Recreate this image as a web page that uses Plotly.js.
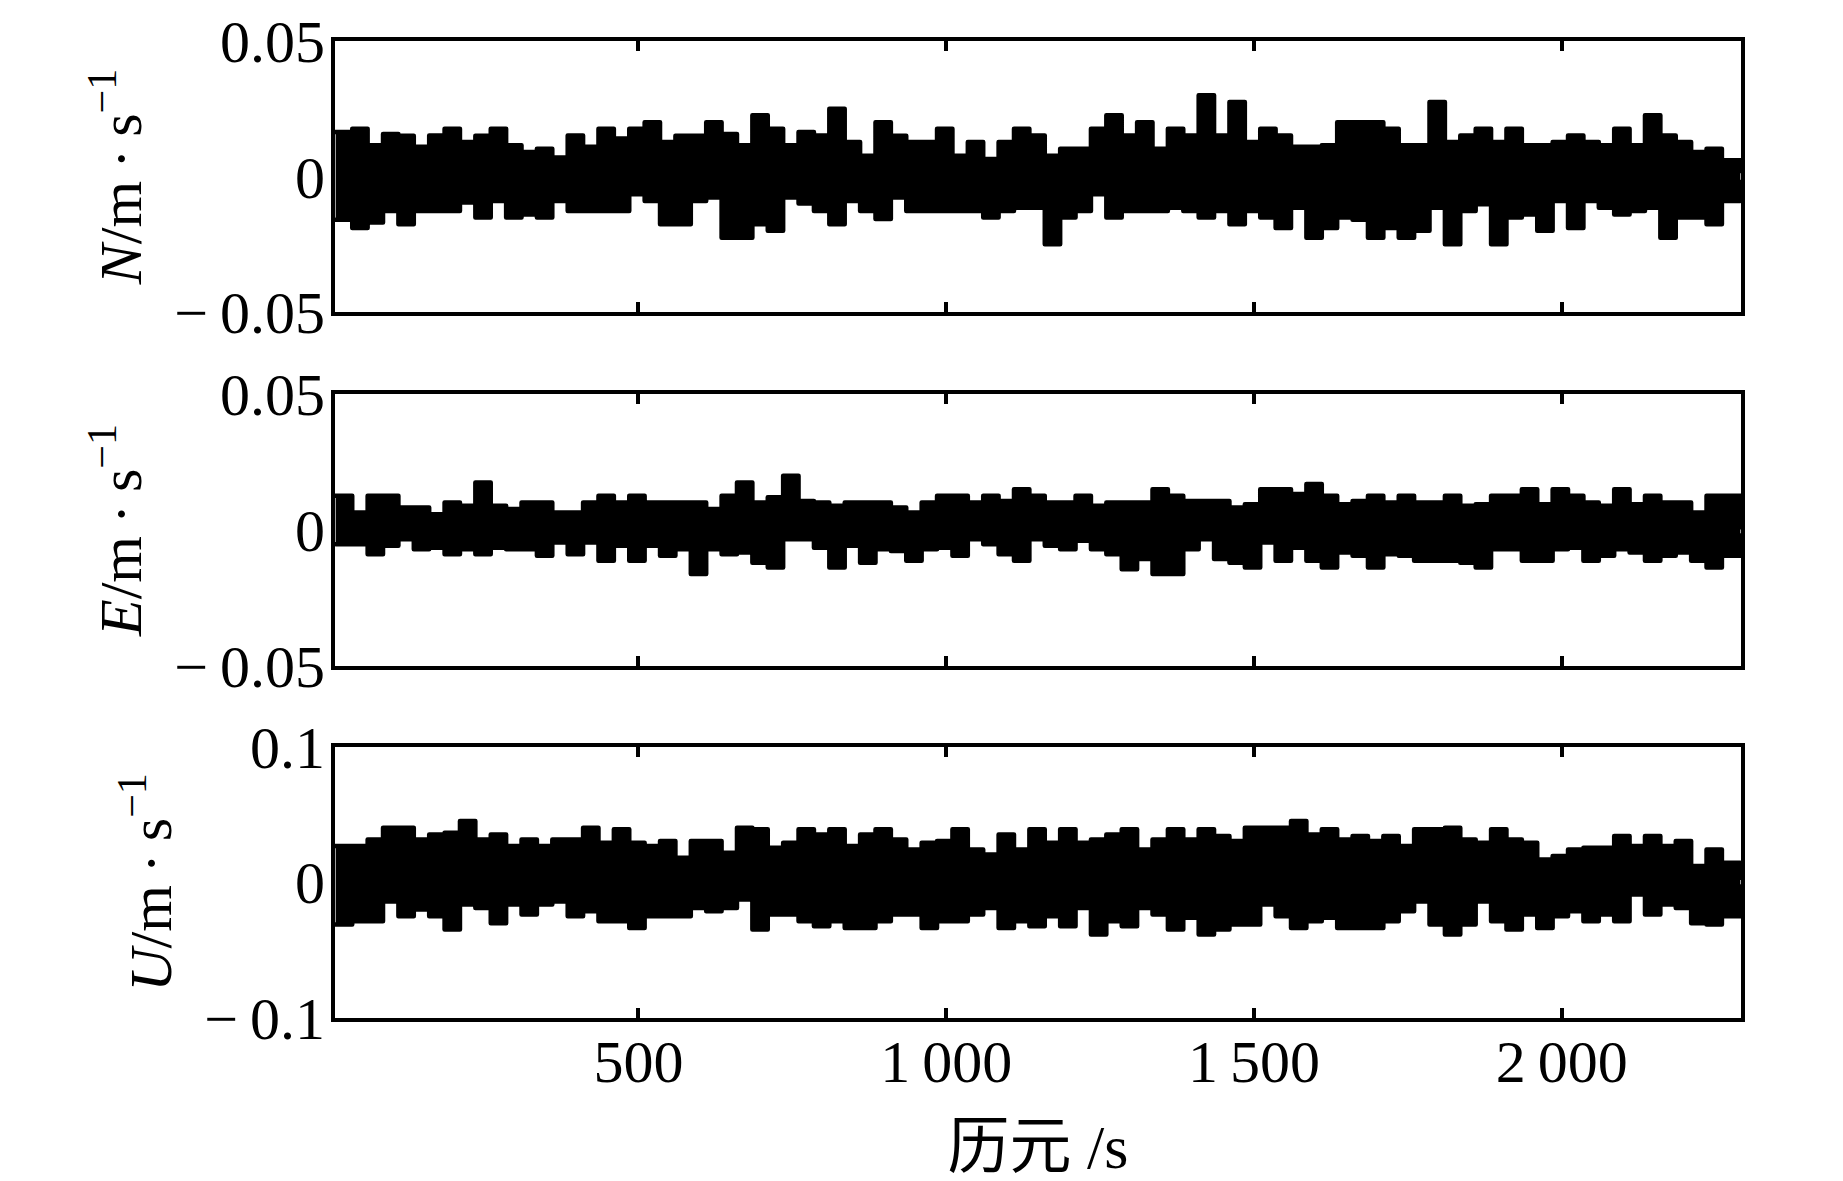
<!DOCTYPE html>
<html>
<head>
<meta charset="utf-8">
<script src="https://cdn.plot.ly/plotly-3.0.1.min.js"></script>
<style>
  html, body { margin: 0; padding: 0; background: #fff; }
  #graph { width: 1843px; height: 1181px; }
  .scatterlayer .js-line { stroke-linejoin: round; stroke-linecap: round; }
</style>
</head>
<body>
<div id="graph"></div>
<script>
// epochs (s) of each 25 s window
var epochs = [8,35,60,85,110,135,160,185,210,235,260,285,310,335,360,385,410,435,460,485,510,535,560,585,610,635,660,685,710,735,760,
  785,810,835,860,885,910,935,960,985,1010,1035,1060,1085,1110,1135,1160,1185,1210,1235,1260,1285,1310,1335,1360,1385,1410,1435,1460,1485,1510,
  1535,1560,1585,1610,1635,1660,1685,1710,1735,1760,1785,1810,1835,1860,1885,1910,1935,1960,1985,2010,2035,2060,2085,2110,2135,2160,2185,2210,2235,2260,2290];

// upper / lower envelope of the velocity residuals in each window (m/s)
var nHigh = [0.0164,0.0176,0.0115,0.0157,0.015,0.011,0.0151,0.0176,0.0127,0.015,0.0176,0.0115,0.009,0.0102,0.007,0.0151,0.011,0.0176,0.014,0.0176,0.020,0.0127,0.015,0.015,0.020,0.0157,0.0115,0.0226,0.0176,0.0115,0.0164,
  0.0151,0.025,0.0127,0.0077,0.020,0.015,0.0127,0.0127,0.0176,0.0077,0.0127,0.0065,0.0127,0.0176,0.0151,0.0077,0.0102,0.0102,0.0176,0.0226,0.0151,0.020,0.0102,0.0176,0.0151,0.030,0.0151,0.0275,0.0127,0.0176,
  0.0151,0.011,0.011,0.0115,0.020,0.020,0.020,0.0176,0.0115,0.0115,0.0275,0.0127,0.0151,0.0176,0.0127,0.0176,0.0115,0.0115,0.0127,0.0151,0.0127,0.0115,0.0176,0.0115,0.0226,0.0151,0.0127,0.009,0.0102,0.006,0.002];
var nLow = [-0.016,-0.019,-0.017,-0.0127,-0.0176,-0.0127,-0.0127,-0.0127,-0.0096,-0.0151,-0.009,-0.0151,-0.014,-0.0151,-0.009,-0.0127,-0.0127,-0.0127,-0.0127,-0.0065,-0.009,-0.0176,-0.0176,-0.009,-0.0077,-0.0226,-0.0226,-0.0176,-0.020,-0.0077,-0.010,
  -0.0127,-0.0176,-0.009,-0.0127,-0.0157,-0.0077,-0.0127,-0.0127,-0.0127,-0.0127,-0.0127,-0.0151,-0.0127,-0.0115,-0.0115,-0.025,-0.0151,-0.0127,-0.0065,-0.0151,-0.0127,-0.0127,-0.0127,-0.0115,-0.0127,-0.0151,-0.0127,-0.0176,-0.0127,-0.0151,
  -0.019,-0.0115,-0.0226,-0.019,-0.0151,-0.016,-0.0226,-0.019,-0.0226,-0.020,-0.0115,-0.025,-0.0127,-0.0102,-0.025,-0.0151,-0.014,-0.020,-0.009,-0.019,-0.009,-0.0115,-0.014,-0.0127,-0.0115,-0.0226,-0.0151,-0.0151,-0.0176,-0.009,-0.002];

var eHigh = [0.0126,0.0064,0.0126,0.0126,0.0083,0.0083,0.0058,0.0101,0.0089,0.0175,0.0089,0.0077,0.0101,0.0101,0.0064,0.0064,0.0101,0.0126,0.0101,0.0126,0.0101,0.0101,0.0101,0.0101,0.0077,0.0126,0.0175,0.0101,0.012,0.0199,0.0107,
  0.0101,0.0089,0.0101,0.0101,0.0101,0.0083,0.0064,0.0101,0.0126,0.0126,0.0101,0.0126,0.0107,0.015,0.0126,0.0101,0.0101,0.0126,0.0089,0.0101,0.0101,0.0101,0.015,0.0126,0.0107,0.0107,0.0107,0.0083,0.0095,0.015,
  0.015,0.0132,0.0169,0.0126,0.0095,0.0107,0.0126,0.0101,0.0126,0.0101,0.0101,0.0126,0.0089,0.0095,0.0126,0.0126,0.015,0.0095,0.015,0.0126,0.0101,0.0089,0.015,0.0095,0.0126,0.0101,0.0101,0.0064,0.0126,0.0126,0.001];
var eLow = [-0.0052,-0.0052,-0.0089,-0.0058,-0.0034,-0.0071,-0.0065,-0.0089,-0.0071,-0.0089,-0.0065,-0.0071,-0.0071,-0.0095,-0.0046,-0.0089,-0.0046,-0.0113,-0.0058,-0.0113,-0.0058,-0.0095,-0.0071,-0.0162,-0.0071,-0.0089,-0.0083,-0.012,-0.0138,-0.0034,-0.0034,
  -0.0065,-0.0138,-0.0058,-0.012,-0.0071,-0.0077,-0.0113,-0.0071,-0.0065,-0.0095,-0.0034,-0.0052,-0.0089,-0.0113,-0.0034,-0.0058,-0.0071,-0.004,-0.0071,-0.0089,-0.0144,-0.0107,-0.0162,-0.0162,-0.0071,-0.0034,-0.0107,-0.012,-0.0138,-0.0046,
  -0.0113,-0.0065,-0.0113,-0.0138,-0.0083,-0.0095,-0.0138,-0.0089,-0.0095,-0.0113,-0.0113,-0.0113,-0.012,-0.0138,-0.0071,-0.0071,-0.0113,-0.0113,-0.0071,-0.0065,-0.0113,-0.0095,-0.0071,-0.0083,-0.0113,-0.0095,-0.0083,-0.0113,-0.0138,-0.0095,-0.002];

var uHigh = [0.0269,0.0269,0.0318,0.0404,0.0404,0.0318,0.0355,0.0367,0.0453,0.0318,0.0355,0.0269,0.0318,0.0269,0.0318,0.0318,0.0404,0.0294,0.0392,0.0294,0.0269,0.0306,0.0182,0.0306,0.0306,0.0219,0.0404,0.0392,0.0257,0.0294,0.0392,
  0.0355,0.0392,0.0269,0.0355,0.0392,0.0318,0.0244,0.0294,0.0306,0.0392,0.0244,0.0207,0.0355,0.0244,0.0392,0.0294,0.0392,0.0294,0.0318,0.0355,0.0392,0.0244,0.0318,0.0392,0.0318,0.0392,0.0343,0.0306,0.0404,0.0404,
  0.0404,0.0453,0.0355,0.0392,0.0318,0.0343,0.0306,0.0343,0.0269,0.0392,0.0392,0.0404,0.0318,0.0294,0.0392,0.0318,0.0294,0.017,0.0195,0.0244,0.0257,0.0257,0.0343,0.0269,0.0343,0.0269,0.0306,0.0121,0.0244,0.0145,0.0035];
var uLow = [-0.031,-0.0286,-0.0286,-0.014,-0.025,-0.02,-0.025,-0.0347,-0.0163,-0.0188,-0.03,-0.0163,-0.0237,-0.0163,-0.014,-0.025,-0.0212,-0.0286,-0.0286,-0.0335,-0.025,-0.025,-0.025,-0.0188,-0.0212,-0.0188,-0.0126,-0.0347,-0.0237,-0.0237,-0.0286,
  -0.0323,-0.0286,-0.0335,-0.0335,-0.0286,-0.0237,-0.0237,-0.0335,-0.0286,-0.0286,-0.0237,-0.0188,-0.0335,-0.0286,-0.0323,-0.025,-0.0323,-0.0188,-0.0384,-0.0286,-0.0323,-0.0188,-0.0237,-0.0347,-0.0261,-0.0384,-0.0347,-0.031,-0.031,-0.0163,
  -0.025,-0.0335,-0.0286,-0.0261,-0.0335,-0.0335,-0.0335,-0.0286,-0.0212,-0.014,-0.031,-0.0384,-0.031,-0.014,-0.0286,-0.0347,-0.0237,-0.0335,-0.025,-0.0212,-0.0286,-0.0237,-0.0286,-0.0089,-0.0237,-0.0163,-0.0188,-0.03,-0.031,-0.025,-0.003];

var xTickVals = [500, 1000, 1500, 2000];
var xTickText = ['500', '1\u2009000', '1\u2009500', '2\u2009000'];

var fontFam = '"Liberation Serif", "Times New Roman", "Noto Sans CJK SC", serif';

// two traces per panel: lower envelope, then upper envelope filled down to it
function band(lo, hi, xa, ya) {
  var line = { color: '#000', width: 4.5, shape: 'hv' };
  return [
    { x: epochs, y: lo, xaxis: xa, yaxis: ya, type: 'scatter', mode: 'lines', line: line, hoverinfo: 'skip' },
    { x: epochs, y: hi, xaxis: xa, yaxis: ya, type: 'scatter', mode: 'lines', line: line,
      fill: 'tonexty', fillcolor: '#000', hoverinfo: 'skip' }
  ];
}

var traces = [].concat(
  band(nLow, nHigh, 'x', 'y'),
  band(eLow, eHigh, 'x2', 'y2'),
  band(uLow, uHigh, 'x3', 'y3')
);

function xAxis(anchor, labels) {
  return {
    anchor: anchor, domain: [0, 1], range: [7, 2291],
    showline: true, linecolor: '#000', linewidth: 4, mirror: 'ticks',
    ticks: 'inside', ticklen: 10, tickwidth: 4, tickcolor: '#000',
    tickvals: xTickVals, ticktext: xTickText,
    showticklabels: labels, ticklabelstandoff: -12,
    showgrid: false, zeroline: false,
    tickfont: { family: fontFam, size: 60, color: '#000' }
  };
}

function yAxis(anchor, dom, lim, text, tickText) {
  return {
    anchor: anchor, domain: dom, range: [-lim, lim],
    showline: true, linecolor: '#000', linewidth: 4, mirror: 'ticks',
    ticks: '', tickvals: [-lim, 0, lim], ticktext: tickText,
    ticklabelstandoff: -6,
    showgrid: false, zeroline: false,
    tickfont: { family: fontFam, size: 60, color: '#000' },
    title: { text: text, standoff: 14, font: { family: fontFam, size: 60, color: '#000' } }
  };
}

var layout = {
  width: 1843, height: 1181,
  margin: { l: 335, r: 102, t: 41, b: 163 },
  paper_bgcolor: '#fff', plot_bgcolor: '#fff',
  showlegend: false,
  xaxis: xAxis('y', false),
  xaxis2: xAxis('y2', false),
  xaxis3: Object.assign(xAxis('y3', true), {
    title: { text: '历元 /s', standoff: 52, font: { family: fontFam, size: 62, color: '#000' } }
  }),
  yaxis: yAxis('x', [0.7226, 1], 0.05, '<i>N</i>/m\u2009·\u2009s<sup>\u22121</sup>', ['\u2212\u20090.05', '0', '0.05']),
  yaxis2: yAxis('x2', [0.3603, 0.6387], 0.05, '<i>E</i>/m\u2009·\u2009s<sup>\u22121</sup>', ['\u2212\u20090.05', '0', '0.05']),
  yaxis3: yAxis('x3', [0, 0.2774], 0.1, '<i>U</i>/m\u2009·\u2009s<sup>\u22121</sup>', ['\u2212\u20090.1', '0', '0.1'])
};

Plotly.newPlot('graph', traces, layout, { staticPlot: true, displayModeBar: false });
</script>
</body>
</html>
